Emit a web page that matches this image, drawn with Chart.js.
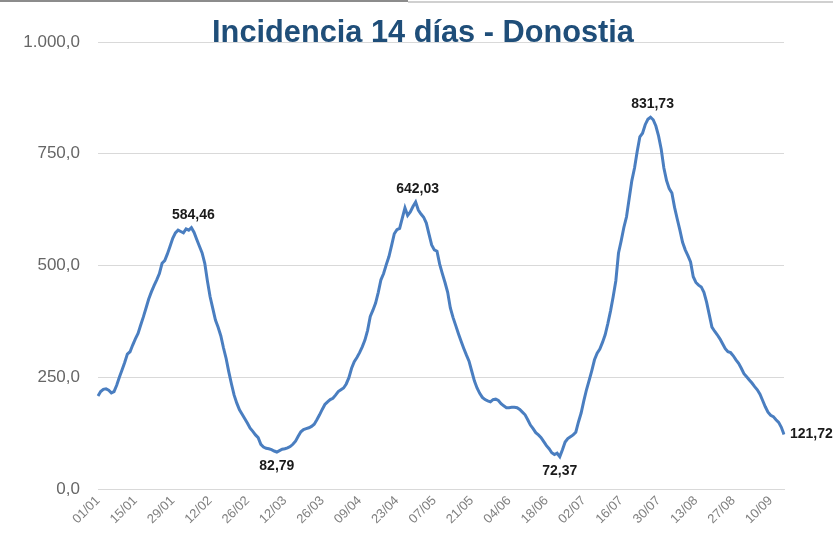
<!DOCTYPE html>
<html>
<head>
<meta charset="utf-8">
<title>Incidencia 14 días - Donostia</title>
<script src="https://cdn.jsdelivr.net/npm/chart.js@4.4.1/dist/chart.umd.min.js"></script>
<style>
  html, body { margin: 0; padding: 0; background: #fff; }
  #wrap { width: 833px; height: 540px; position: relative; }
</style>
</head>
<body>
<div id="wrap"><canvas id="incidenceChart"></canvas></div>
<script>
var titleText = "Incidencia 14 días - Donostia";

// one tick label every 14 days
var tickLabels = ["01/01", "15/01", "29/01", "12/02", "26/02", "12/03", "26/03", "09/04", "23/04",
  "07/05", "21/05", "04/06", "18/06", "02/07", "16/07", "30/07", "13/08", "27/08", "10/09"];

// daily 14-day incidence, 01/01 -> 15/09
var incidence = [
  208, 218, 223, 224, 221, 215, 218, 232, 250, 266,
  283, 302, 307, 322, 336, 348, 367, 385, 405, 425,
  441, 455, 468, 482, 505, 511, 526, 543, 561, 573,
  579, 576, 573, 582, 579, 584.46, 574, 558, 543, 528,
  505, 465, 430, 404, 378, 362, 343, 316, 292, 262,
  235, 210, 192, 177, 167, 157, 147, 136, 129, 121,
  115, 100, 94, 91, 90, 88, 85, 82.79, 86, 89,
  90, 92, 95, 100, 107, 118, 128, 133, 135, 137,
  140, 145, 155, 166, 178, 189, 195, 200, 203, 210,
  218, 222, 226, 235, 249, 270, 285, 294, 305, 318,
  333, 355, 386, 400, 416, 440, 468, 482, 502, 520,
  545, 571, 580, 583, 606, 629, 612, 620, 632, 642.03,
  624, 615, 608, 595, 570, 546, 535, 532, 503, 482,
  462, 440, 405, 384, 366, 348, 331, 315, 300, 286,
  264, 242, 226, 214, 205, 200, 197, 195, 200, 201,
  198, 191, 186, 182, 182, 183, 183, 182, 178, 172,
  166, 155, 143, 135, 126, 121, 115, 106, 97, 90,
  81, 77, 80, 72.37, 88, 105, 113, 117, 121, 127,
  150, 170, 197, 222, 243, 265, 289, 304, 313, 328,
  345, 370, 398, 430, 466, 528, 555, 585, 609, 650,
  690, 718, 755, 788, 796, 815, 827, 831.73, 826, 812,
  790, 760, 718, 690, 672, 662, 630, 604, 579, 552,
  535, 522, 508, 475, 462, 456, 452, 440, 418, 390,
  362, 353, 345, 336, 325, 314, 307, 305, 298, 289,
  281, 270, 258, 251, 244, 237, 229, 222, 212, 198,
  184, 172, 165, 162, 155, 149, 138, 121.72
];

// which days carry a value label, and where it goes
var labelledDays = [35, 67, 119, 173, 207, 257];
var labelSides = ["top", "bottom", "top", "bottom", "top", "right"];

var days = [];
for (var i = 0; i < incidence.length; i++) {
  var d = new Date(2021, 0, 1 + i);
  days.push(('0' + d.getDate()).slice(-2) + '/' + ('0' + (d.getMonth() + 1)).slice(-2));
}

var baseFont = '"Liberation Sans", Arial, sans-serif';

function fmtAxis(v) {
  var parts = Number(v).toFixed(1).split('.');
  parts[0] = parts[0].replace(/\B(?=(\d{3})+(?!\d))/g, '.');
  return parts.join(',');
}

var pointLabels = {
  id: 'pointLabels',
  afterDatasetsDraw: function(chart) {
    var meta = chart.getDatasetMeta(0);
    var ctx = chart.ctx;
    ctx.save();
    ctx.font = 'bold 14px ' + baseFont;
    ctx.fillStyle = '#1a1a1a';
    labelledDays.forEach(function(day, k) {
      var pt = meta.data[day];
      var txt = incidence[day].toFixed(2).replace('.', ',');
      if (labelSides[k] === 'right') {
        ctx.textAlign = 'left'; ctx.textBaseline = 'middle';
        ctx.fillText(txt, pt.x + 6, pt.y);
      } else if (labelSides[k] === 'top') {
        ctx.textAlign = 'center'; ctx.textBaseline = 'bottom';
        ctx.fillText(txt, pt.x + 2, pt.y - 6);
      } else {
        ctx.textAlign = 'center'; ctx.textBaseline = 'top';
        ctx.fillText(txt, pt.x, pt.y + 7);
      }
    });
    ctx.restore();
  }
};

// title sits over the plot like in the spreadsheet, plus the thin frame line on top
var overlayTitle = {
  id: 'overlayTitle',
  afterDraw: function(chart) {
    var ctx = chart.ctx;
    ctx.save();
    ctx.fillStyle = '#8c8c8c';
    ctx.fillRect(0, 0, 408, 2);
    ctx.fillStyle = '#d0d0d0';
    ctx.fillRect(408, 1, chart.width - 408, 2);

    var size = 31;
    ctx.font = 'bold ' + size + 'px "Liberation Sans Narrow", ' + baseFont;
    var w = ctx.measureText(titleText).width;
    if (w > 422) {
      size = size * 422 / w;
      ctx.font = 'bold ' + size + 'px "Liberation Sans Narrow", ' + baseFont;
    }
    ctx.fillStyle = '#1F4E79';
    ctx.textAlign = 'center';
    ctx.textBaseline = 'middle';
    ctx.fillText(titleText, 423, 34);
    ctx.restore();
  }
};

var incidenceChart = document.getElementById('incidenceChart');
var myIncidenceChart = new Chart(incidenceChart, {
  type: 'line',
  data: {
    labels: days,
    datasets: [{
      data: incidence,
      borderColor: '#4A7EC0',
      borderWidth: 3,
      pointRadius: 0,
      pointHoverRadius: 0,
      tension: 0,
      fill: false
    }]
  },
  options: {
    responsive: true,
    maintainAspectRatio: false,
    animation: false,
    layout: { padding: { left: 0, right: 49, top: 42, bottom: 0 } },
    plugins: {
      legend: { display: false },
      tooltip: { enabled: false },
      title: { display: false }
    },
    scales: {
      x: {
        grid: { display: false, drawTicks: false },
        border: { display: true, color: '#d9d9d9' },
        ticks: {
          autoSkip: false,
          minRotation: 45,
          maxRotation: 45,
          padding: 4,
          color: '#808080',
          font: { size: 13, family: baseFont },
          callback: function(v, i) { return i % 14 === 0 ? tickLabels[i / 14] : null; }
        },
        afterFit: function(s) { s.height = 51; }
      },
      y: {
        min: 0,
        max: 1000,
        border: { display: false },
        grid: { color: '#d9d9d9', drawTicks: false },
        ticks: {
          stepSize: 250,
          padding: 18,
          color: '#666666',
          font: { size: 17, family: baseFont },
          callback: fmtAxis
        },
        afterFit: function(s) { s.width = 98; }
      }
    }
  },
  plugins: [pointLabels, overlayTitle]
});
</script>
</body>
</html>
